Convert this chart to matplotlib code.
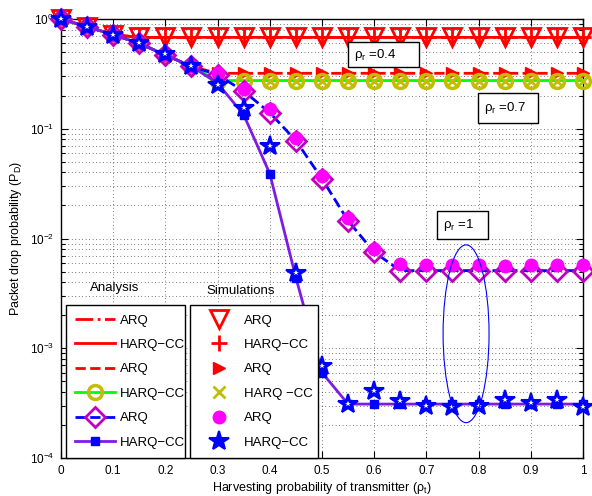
import numpy as np
import matplotlib
matplotlib.use('Agg')
import matplotlib.pyplot as plt
from matplotlib.lines import Line2D
from matplotlib.patches import Ellipse, Rectangle

plt.rcParams['font.family'] = ['Liberation Sans', 'DejaVu Sans']
plt.rcParams['mathtext.fontset'] = 'custom'
plt.rcParams['mathtext.rm'] = 'Liberation Sans'
plt.rcParams['mathtext.it'] = 'Liberation Sans:italic'

# harvesting probability of transmitter
rho_t = [0.0, 0.05, 0.1, 0.15, 0.2, 0.25, 0.3, 0.35, 0.4, 0.45, 0.5,
         0.55, 0.6, 0.65, 0.7, 0.75, 0.8, 0.85, 0.9, 0.95, 1.0]

# rho_r = 0.4 (ARQ and HARQ-CC coincide)
arq_04 = [1.0, 0.85, 0.72, 0.68, 0.68, 0.68, 0.68, 0.68, 0.68, 0.68, 0.68,
          0.68, 0.68, 0.68, 0.68, 0.68, 0.68, 0.68, 0.68, 0.68, 0.68]
harq_04 = [1.0, 0.85, 0.72, 0.68, 0.68, 0.68, 0.68, 0.68, 0.68, 0.68, 0.68,
           0.68, 0.68, 0.68, 0.68, 0.68, 0.68, 0.68, 0.68, 0.68, 0.68]

# rho_r = 0.7
arq_07 = [1.0, 0.85, 0.72, 0.6, 0.47, 0.37, 0.32, 0.32, 0.32, 0.32, 0.32,
          0.32, 0.32, 0.32, 0.32, 0.32, 0.32, 0.32, 0.32, 0.32, 0.32]
harq_07 = [1.0, 0.85, 0.72, 0.6, 0.47, 0.37, 0.275, 0.275, 0.275, 0.275, 0.275,
           0.275, 0.275, 0.275, 0.275, 0.275, 0.275, 0.275, 0.275, 0.275, 0.275]

# rho_r = 1 analysis
arq_1 = [1.0, 0.85, 0.72, 0.6, 0.47, 0.37, 0.31, 0.22, 0.14, 0.078, 0.035,
         0.0145, 0.0075, 0.0051, 0.0051, 0.0051, 0.0051, 0.0051, 0.0051, 0.0051, 0.0051]
harq_1 = [1.0, 0.85, 0.72, 0.6, 0.47, 0.37, 0.26, 0.134, 0.039, 0.0044, 0.0006,
          0.00031, 0.00031, 0.00031, 0.00031, 0.00031, 0.00031, 0.00031, 0.00031, 0.00031, 0.00031]

# rho_r = 1 simulations
arq_1_sim = [1.0, 0.85, 0.72, 0.6, 0.47, 0.37, 0.32, 0.23, 0.15, 0.083, 0.037,
             0.0155, 0.008, 0.0058, 0.0057, 0.0057, 0.0057, 0.0056, 0.0057, 0.0057, 0.0057]
harq_1_sim = [1.0, 0.84, 0.72, 0.6, 0.48, 0.37, 0.25, 0.155, 0.07, 0.0049, 0.00069,
              0.00031, 0.00041, 0.00033, 0.0003, 0.00029, 0.0003, 0.00034, 0.00032, 0.00034, 0.00029]

xticklab = ['0', '0.1', '0.2', '0.3', '0.4', '0.5', '0.6', '0.7', '0.8', '0.9', '1']

yel = (0.75, 0.75, 0.0)
dmag = (0.75, 0.0, 0.75)
mag = (1.0, 0.0, 1.0)
purp = (0.5, 0.1, 0.9)

fig = plt.figure(figsize=(5.92, 4.96), dpi=100)
ax = fig.add_axes([0.1030, 0.0766, 0.8818, 0.8851])

# analysis curves + simulation markers
ax.plot(rho_t, arq_04, color='r', ls='-.', lw=2, zorder=3)
ax.plot(rho_t, harq_04, color='r', ls='-', lw=2, zorder=3)
ax.plot(rho_t, arq_04, ls='none', marker='v', ms=13, mfc='none', mec='r', mew=2, zorder=4, clip_on=False)
ax.plot(rho_t, harq_04, ls='none', marker='+', ms=12, mec='r', mew=2, zorder=4, clip_on=False)

ax.plot(rho_t, arq_07, color='r', ls='--', lw=2, zorder=3)
ax.plot(rho_t, arq_07, ls='none', marker='>', ms=8, mfc='r', mec='r', zorder=4, clip_on=False)
ax.plot(rho_t, harq_07, color=(0, 1, 0), ls='-', lw=2, marker='o', ms=10, mfc='none', mec=yel, mew=2.5,
        zorder=5, clip_on=False)
ax.plot(rho_t, harq_07, ls='none', marker='x', ms=8, mec=yel, mew=2, zorder=5, clip_on=False)

ax.plot(rho_t, arq_1, color='b', ls='--', lw=2, marker='D', ms=10, mfc='none', mec=dmag, mew=2,
        zorder=6, clip_on=False)
ax.plot(rho_t, arq_1_sim, ls='none', marker='o', ms=9, mfc=mag, mec=mag, zorder=7, clip_on=False)
ax.plot(rho_t, harq_1, color=purp, ls='-', lw=2, marker='s', ms=6, mfc='b', mec='b', zorder=8, clip_on=False)
ax.plot(rho_t, harq_1_sim, ls='none', marker='*', ms=15, mfc='b', mec='b', mew=1.5, zorder=9, clip_on=False)
ax.plot(rho_t, harq_1_sim, ls='none', marker='*', ms=4, mfc='w', mec='w', mew=0, zorder=10, clip_on=False)

ax.set_yscale('log')
ax.set_xlim(0, 1)
ax.set_ylim(1e-4, 1)
ax.set_xticks(np.arange(0, 1.01, 0.1))
ax.set_xticklabels(xticklab)
ax.xaxis.set_minor_locator(matplotlib.ticker.NullLocator())
ax.tick_params(which='both', direction='in', top=True, right=True, labelsize=8.5, width=0.8)
ax.tick_params(which='major', length=5, pad=5)
ax.tick_params(which='minor', length=3)
ax.grid(True, which='major', ls=(0, (1, 4)), color='k', lw=0.5)
ax.yaxis.grid(True, which='minor', ls=(0, (1, 4)), color='k', lw=0.5)
for s in ax.spines.values():
    s.set_linewidth(1)

ax.set_xlabel('Harvesting probability of transmitter (ρ$_{\\rm t}$)', fontsize=9, labelpad=2)
ax.set_ylabel('Packet drop probability (P$_{\\rm D}$)', fontsize=9, labelpad=4)

# annotation boxes
boxes = [(0.550, 0.891, 0.136, 0.057, 0.561, 0.919, 'ρ$_{\\rm r}$ =0.4'),
         (0.799, 0.763, 0.115, 0.068, 0.810, 0.797, 'ρ$_{\\rm r}$ =0.7'),
         (0.720, 0.499, 0.098, 0.064, 0.732, 0.531, 'ρ$_{\\rm r}$ =1')]
for bx, by, bw, bh, tx, ty, t in boxes:
    ax.add_patch(Rectangle((bx, by), bw, bh, transform=ax.transAxes, fc='w', ec='k', lw=1, zorder=20))
    ax.text(tx, ty, t, transform=ax.transAxes, fontsize=9.5, ha='left', va='center', zorder=21)

ax.add_patch(Ellipse((0.776, 0.283), 0.088, 0.405, transform=ax.transAxes, fill=False, ec='b', lw=0.8, zorder=11))

# legends
h_an = [Line2D([], [], color='r', ls='-.', lw=2),
        Line2D([], [], color='r', ls='-', lw=2),
        Line2D([], [], color='r', ls='--', lw=2),
        Line2D([], [], color=(0, 1, 0), ls='-', lw=2, marker='o', ms=10, mfc='none', mec=yel, mew=2.5),
        Line2D([], [], color='b', ls='--', lw=2, marker='D', ms=10, mfc='none', mec=dmag, mew=2),
        Line2D([], [], color=purp, ls='-', lw=2, marker='s', ms=6, mfc='b', mec='b')]
l_an = ['ARQ', 'HARQ−CC', 'ARQ', 'HARQ−CC', 'ARQ', 'HARQ−CC']
h_sim = [Line2D([], [], ls='none', marker='v', ms=13, mfc='none', mec='r', mew=2),
         Line2D([], [], ls='none', marker='+', ms=12, mec='r', mew=2),
         Line2D([], [], ls='none', marker='>', ms=8, mfc='r', mec='r'),
         Line2D([], [], ls='none', marker='x', ms=8, mec=yel, mew=2),
         Line2D([], [], ls='none', marker='o', ms=9, mfc=mag, mec=mag),
         Line2D([], [], ls='none', marker='*', ms=15, mfc='b', mec='b', mew=1.5)]
l_sim = ['ARQ', 'HARQ−CC', 'ARQ', 'HARQ −CC', 'ARQ', 'HARQ−CC']

kw = dict(loc='lower left', mode='expand', borderaxespad=0, fontsize=9.5, numpoints=1,
          handlelength=3.0, handletextpad=0.4, labelspacing=0.92, borderpad=0.72,
          fancybox=False, framealpha=1, edgecolor='k')
leg1 = ax.legend(h_an, l_an, bbox_to_anchor=(0.0096, 0.0, 0.228, 0.35), **kw)
leg1.get_frame().set_linewidth(1)
leg1.set_zorder(30)
ax.add_artist(leg1)
leg2 = ax.legend(h_sim, l_sim, bbox_to_anchor=(0.247, 0.0, 0.245, 0.35), **kw)
leg2.get_frame().set_linewidth(1)
leg2.set_zorder(30)

ax.text(0.103, 0.387, 'Analysis', transform=ax.transAxes, fontsize=9.5, ha='center', va='center', zorder=21)
ax.text(0.345, 0.380, 'Simulations', transform=ax.transAxes, fontsize=9.5, ha='center', va='center', zorder=21)

fig.savefig('out.png', dpi=100)
